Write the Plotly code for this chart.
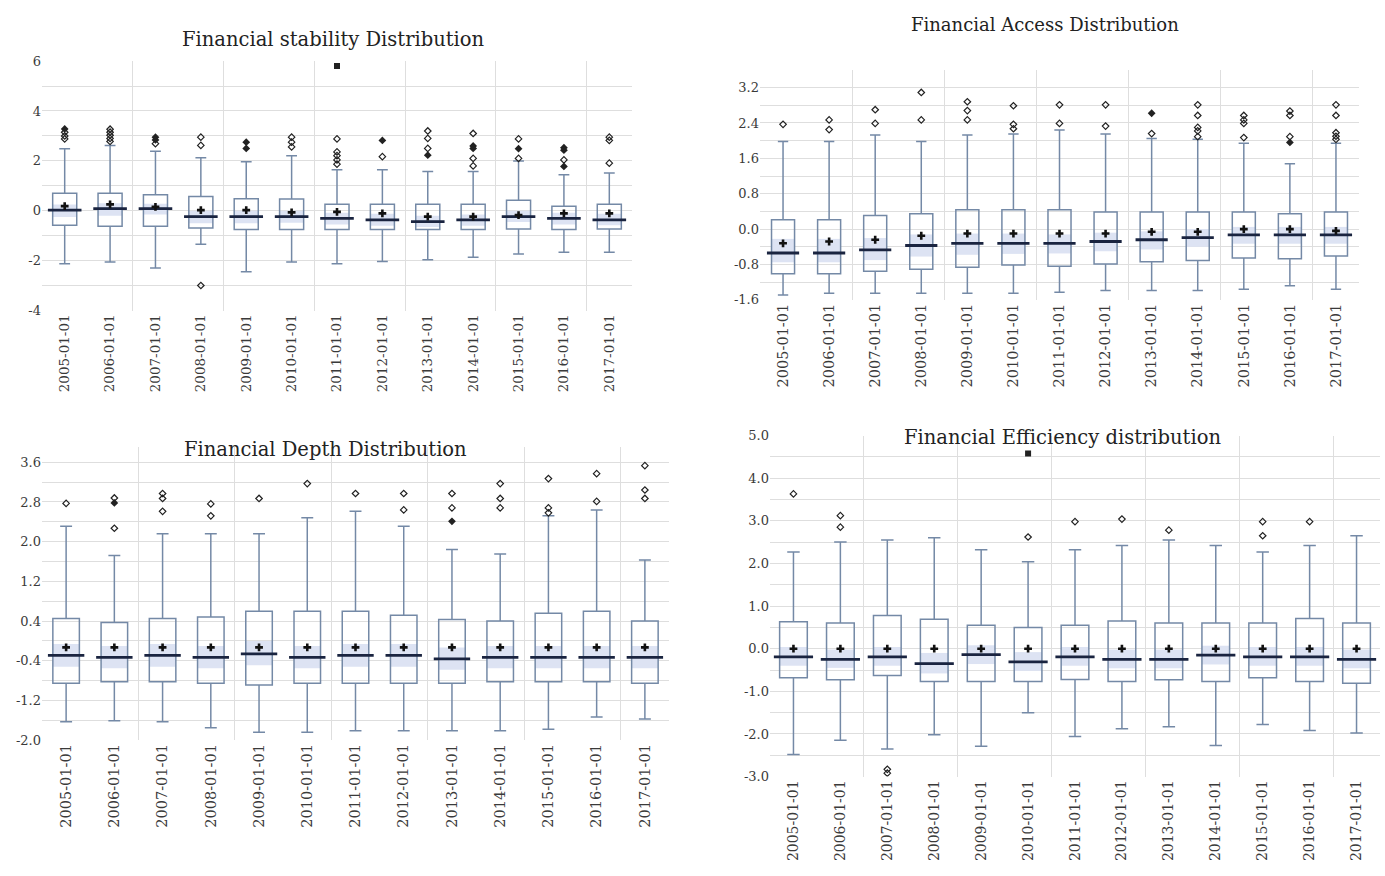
import plotly.graph_objects as go

# ---------------- data ----------------
categories = ["2005-01-01", "2006-01-01", "2007-01-01", "2008-01-01", "2009-01-01",
              "2010-01-01", "2011-01-01", "2012-01-01", "2013-01-01", "2014-01-01",
              "2015-01-01", "2016-01-01", "2017-01-01"]

# Financial stability
stab_lower = [-2.12, -2.05, -2.29, -1.34, -2.44, -2.05, -2.12, -2.03, -1.96, -1.86, -1.73, -1.66, -1.66]
stab_q1 = [-0.58, -0.62, -0.62, -0.69, -0.75, -0.75, -0.75, -0.75, -0.75, -0.75, -0.73, -0.75, -0.73]
stab_median = [0.03, 0.09, 0.09, -0.23, -0.23, -0.23, -0.30, -0.36, -0.43, -0.36, -0.23, -0.30, -0.36]
stab_q3 = [0.71, 0.71, 0.64, 0.57, 0.48, 0.47, 0.26, 0.26, 0.26, 0.26, 0.42, 0.18, 0.26]
stab_upper = [2.49, 2.62, 2.39, 2.13, 1.97, 2.21, 1.65, 1.65, 1.58, 1.58, 2.00, 1.45, 1.52]
stab_mean = [0.19, 0.26, 0.16, 0.03, 0.03, -0.06, -0.04, -0.10, -0.23, -0.23, -0.17, -0.10, -0.10]
stab_band_lo = [-0.25, -0.20, -0.15, -0.50, -0.50, -0.48, -0.55, -0.60, -0.65, -0.60, -0.45, -0.55, -0.58]
stab_band_hi = [0.25, 0.30, 0.28, 0.00, 0.00, 0.00, -0.08, -0.12, -0.20, -0.15, 0.00, -0.08, -0.12]
stab_out_open = [[3.15, 3.0, 2.88], [3.27, 3.15, 3.03, 2.9, 2.78], [2.69], [2.95, 2.62, -2.99], [],
                 [2.95, 2.75, 2.56], [2.88, 2.36, 2.21, 2.04, 1.87], [2.17], [3.2, 2.9, 2.5],
                 [3.1, 2.1, 1.8], [2.88, 2.1], [2.04], [2.95, 2.82, 1.91]]
stab_out_fill = [[3.28], [], [2.95, 2.84], [], [2.75, 2.5], [], [], [2.82], [2.23],
                 [2.6, 2.5], [2.49], [2.53, 2.43, 1.78], []]
stab_out_square = [[], [], [], [], [], [], [5.8], [], [], [], [], [], []]

# Financial access
acc_lower = [-1.49, -1.45, -1.45, -1.45, -1.45, -1.45, -1.43, -1.39, -1.39, -1.39, -1.36, -1.28, -1.36]
acc_q1 = [-1.01, -1.01, -0.95, -0.91, -0.86, -0.81, -0.84, -0.79, -0.74, -0.71, -0.65, -0.67, -0.61]
acc_median = [-0.54, -0.54, -0.47, -0.37, -0.32, -0.32, -0.32, -0.28, -0.24, -0.19, -0.13, -0.13, -0.13]
acc_q3 = [0.21, 0.21, 0.31, 0.35, 0.44, 0.44, 0.44, 0.39, 0.39, 0.39, 0.39, 0.35, 0.39]
acc_upper = [1.98, 1.98, 2.13, 1.98, 2.13, 2.15, 2.24, 2.15, 2.05, 2.03, 1.94, 1.48, 1.94]
acc_mean = [-0.32, -0.28, -0.24, -0.15, -0.10, -0.10, -0.10, -0.10, -0.06, -0.06, 0.00, 0.00, -0.04]
acc_band_lo = [-0.75, -0.75, -0.70, -0.62, -0.58, -0.56, -0.55, -0.50, -0.46, -0.40, -0.33, -0.33, -0.33]
acc_band_hi = [-0.22, -0.22, -0.20, -0.12, -0.10, -0.10, -0.12, -0.08, -0.05, 0.00, 0.05, 0.05, 0.05]
acc_out_open = [[2.37], [2.47, 2.25], [2.70, 2.39], [3.09, 2.47], [2.88, 2.68, 2.47],
                [2.79, 2.37, 2.27], [2.81, 2.39], [2.81, 2.33], [2.16],
                [2.81, 2.57, 2.30, 2.22, 2.09], [2.57, 2.47, 2.39, 2.07], [2.67, 2.57, 2.09],
                [2.81, 2.57, 2.18, 2.10, 2.03]]
acc_out_fill = [[], [], [], [], [], [], [], [], [2.62], [], [], [1.96], []]
acc_out_square = [[], [], [], [], [], [], [], [], [], [], [], [], []]

# Financial depth
dep_lower = [-1.63, -1.61, -1.63, -1.75, -1.84, -1.84, -1.81, -1.81, -1.81, -1.81, -1.78, -1.53, -1.57]
dep_q1 = [-0.85, -0.82, -0.82, -0.85, -0.89, -0.85, -0.85, -0.85, -0.85, -0.82, -0.82, -0.82, -0.85]
dep_median = [-0.29, -0.33, -0.29, -0.33, -0.26, -0.33, -0.29, -0.29, -0.36, -0.33, -0.33, -0.33, -0.33]
dep_q3 = [0.45, 0.37, 0.45, 0.48, 0.60, 0.60, 0.60, 0.52, 0.43, 0.40, 0.56, 0.60, 0.40]
dep_upper = [2.31, 1.72, 2.16, 2.16, 2.16, 2.48, 2.61, 2.31, 1.84, 1.75, 2.52, 2.64, 1.63]
dep_mean = [-0.13, -0.13, -0.13, -0.13, -0.13, -0.13, -0.13, -0.13, -0.13, -0.13, -0.13, -0.13, -0.13]
dep_band_lo = [-0.52, -0.55, -0.52, -0.55, -0.49, -0.55, -0.52, -0.52, -0.58, -0.55, -0.55, -0.55, -0.55]
dep_band_hi = [-0.06, -0.10, -0.06, -0.10, 0.00, -0.10, -0.06, -0.06, -0.13, -0.10, -0.10, -0.10, -0.10]
dep_out_open = [[2.77], [2.88, 2.27], [2.97, 2.87, 2.61], [2.76, 2.52], [2.87], [3.17], [2.97],
                [2.97, 2.64], [2.97, 2.68], [3.17, 2.87, 2.68], [3.27, 2.68, 2.58], [3.37, 2.81],
                [3.53, 3.04, 2.87]]
dep_out_fill = [[], [2.78], [], [], [], [], [], [], [2.41], [], [], [], []]
dep_out_square = [[], [], [], [], [], [], [], [], [], [], [], [], []]

# Financial efficiency
eff_lower = [-2.48, -2.15, -2.35, -2.02, -2.29, -1.50, -2.06, -1.88, -1.83, -2.27, -1.78, -1.92, -1.98]
eff_q1 = [-0.68, -0.73, -0.63, -0.77, -0.77, -0.77, -0.72, -0.77, -0.73, -0.77, -0.68, -0.77, -0.81]
eff_median = [-0.19, -0.25, -0.19, -0.35, -0.14, -0.31, -0.19, -0.25, -0.25, -0.15, -0.19, -0.19, -0.25]
eff_q3 = [0.63, 0.60, 0.78, 0.69, 0.55, 0.50, 0.55, 0.65, 0.60, 0.60, 0.60, 0.71, 0.60]
eff_upper = [2.27, 2.50, 2.55, 2.60, 2.32, 2.04, 2.32, 2.42, 2.55, 2.42, 2.27, 2.42, 2.65]
eff_mean = [0.00, 0.00, 0.00, 0.00, 0.00, 0.00, 0.00, 0.00, 0.00, 0.00, 0.00, 0.00, 0.00]
eff_band_lo = [-0.40, -0.45, -0.40, -0.58, -0.36, -0.52, -0.40, -0.46, -0.46, -0.37, -0.40, -0.40, -0.46]
eff_band_hi = [0.04, -0.02, 0.04, -0.10, 0.08, -0.08, 0.04, -0.02, -0.02, 0.07, 0.04, 0.04, -0.02]
eff_out_open = [[3.63], [3.12, 2.85], [-2.83, -2.92], [], [], [2.62], [2.98], [3.04], [2.78], [],
                [2.98, 2.65], [2.98], []]
eff_out_fill = [[], [], [], [], [], [], [], [], [], [], [], [], []]
eff_out_square = [[], [], [], [], [], [4.58], [], [], [], [], [], [], []]

# tick labels
stab_yticks = [-4, -3, -2, -1, 0, 1, 2, 3, 4, 5, 6]
stab_yticktext = ["-4", "", "-2", "", "0", "", "2", "", "4", "", "6"]
acc_yticks = [-1.6, -1.2, -0.8, -0.4, 0.0, 0.4, 0.8, 1.2, 1.6, 2.0, 2.4, 2.8, 3.2]
acc_yticktext = ["-1.6", "", "-0.8", "", "0.0", "", "0.8", "", "1.6", "", "2.4", "", "3.2"]
dep_yticks = [-2.0, -1.6, -1.2, -0.8, -0.4, 0.0, 0.4, 0.8, 1.2, 1.6, 2.0, 2.4, 2.8, 3.2, 3.6]
dep_yticktext = ["-2.0", "", "-1.2", "", "-0.4", "", "0.4", "", "1.2", "", "2.0", "", "2.8", "", "3.6"]
eff_yticks = [-3.0, -2.5, -2.0, -1.5, -1.0, -0.5, 0.0, 0.5, 1.0, 1.5, 2.0, 2.5, 3.0, 3.5, 4.0, 4.5, 5.0]
eff_yticktext = ["-3.0", "", "-2.0", "", "-1.0", "", "0.0", "", "1.0", "", "2.0", "", "3.0", "", "4.0", "", "5.0"]

titles = ["Financial stability Distribution", "Financial Access Distribution",
          "Financial Depth Distribution", "Financial Efficiency distribution"]

# ---------------- style ----------------
FONT = "DejaVu Serif"
GRID = "#dedede"
BOXC = "#7489a6"
BANDC = "#dde3f3"
MEDC = "#1a2440"
TXT = "#3a3a3a"

positions = list(range(len(categories)))

fig = go.Figure()


def add_panel(n, lower, q1, med, q3, upper, mean, band_lo, band_hi,
              out_open, out_fill, out_sq, box_w, med_px):
    xa = "x" if n == 1 else f"x{n}"
    ya = "y" if n == 1 else f"y{n}"
    fig.add_trace(go.Bar(
        x=positions, base=band_lo, y=[h - l for h, l in zip(band_hi, band_lo)],
        width=box_w, marker=dict(color=BANDC, line=dict(width=0)),
        xaxis=xa, yaxis=ya, showlegend=False, hoverinfo="skip"))
    fig.add_trace(go.Box(
        x=positions, q1=q1, median=med, q3=q3, lowerfence=lower, upperfence=upper,
        width=box_w, whiskerwidth=0.45, boxpoints=False,
        fillcolor="rgba(255,255,255,0)", line=dict(color=BOXC, width=1.5),
        xaxis=xa, yaxis=ya, showlegend=False))
    fig.add_trace(go.Scatter(
        x=positions, y=med, mode="markers",
        marker=dict(symbol="line-ew", size=med_px, line=dict(color=MEDC, width=2.8)),
        xaxis=xa, yaxis=ya, showlegend=False))
    fig.add_trace(go.Scatter(
        x=positions, y=mean, mode="markers",
        marker=dict(symbol="cross", size=6.5, color="#111111"),
        xaxis=xa, yaxis=ya, showlegend=False))
    for vals, sym, size, lw in [(out_open, "diamond-open", 5, 1.2),
                                (out_fill, "diamond", 6, 0),
                                (out_sq, "square", 6, 0)]:
        xs, ys = [], []
        for p, lst in zip(positions, vals):
            for v in lst:
                xs.append(p)
                ys.append(v)
        if xs:
            fig.add_trace(go.Scatter(
                x=xs, y=ys, mode="markers",
                marker=dict(symbol=sym, size=size, color="#222222", line=dict(color="#222222", width=lw)),
                xaxis=xa, yaxis=ya, showlegend=False))


add_panel(1, stab_lower, stab_q1, stab_median, stab_q3, stab_upper, stab_mean,
          stab_band_lo, stab_band_hi, stab_out_open, stab_out_fill, stab_out_square, 0.53, 24)
add_panel(2, acc_lower, acc_q1, acc_median, acc_q3, acc_upper, acc_mean,
          acc_band_lo, acc_band_hi, acc_out_open, acc_out_fill, acc_out_square, 0.50, 23)
add_panel(3, dep_lower, dep_q1, dep_median, dep_q3, dep_upper, dep_mean,
          dep_band_lo, dep_band_hi, dep_out_open, dep_out_fill, dep_out_square, 0.55, 26)
add_panel(4, eff_lower, eff_q1, eff_median, eff_q3, eff_upper, eff_mean,
          eff_band_lo, eff_band_hi, eff_out_open, eff_out_fill, eff_out_square, 0.59, 28)

W, H = 1385, 876
panels = [
    # x domain px, y domain px (top, bottom), y range, ticks, ticktext, title pos, title size, tick size
    ((42, 632), (55, 309), [-4, 6], stab_yticks, stab_yticktext, (333, 33), 19.5, 13.5),
    ((760, 1359), (64, 298), [-1.6, 3.6], acc_yticks, acc_yticktext, (1045, 18), 18, 14.5),
    ((42, 669), (448, 746), [-2.0, 3.9], dep_yticks, dep_yticktext, (325, 450), 19.5, 14.5),
    ((770, 1380), (436, 783), [-3.0, 5.0], eff_yticks, eff_yticktext, (1062, 438), 19.5, 14),
]

minor_grid = [p + 0.5 for p in positions[1:-1:2]]

layout = dict(
    width=W, height=H, margin=dict(l=0, r=0, t=0, b=0),
    paper_bgcolor="white", plot_bgcolor="white",
    barmode="overlay", boxmode="overlay", showlegend=False,
    font=dict(family=FONT, color=TXT),
    annotations=[],
)
for i, (xd, yd, yr, yt, ytt, tpos, tsize, ksize) in enumerate(panels, start=1):
    xk = "xaxis" if i == 1 else f"xaxis{i}"
    yk = "yaxis" if i == 1 else f"yaxis{i}"
    xa = "x" if i == 1 else f"x{i}"
    ya = "y" if i == 1 else f"y{i}"
    layout[xk] = dict(
        domain=[xd[0] / W, xd[1] / W], anchor=ya, range=[-0.5, len(categories) - 0.5],
        tickmode="array", tickvals=positions, ticktext=categories, tickangle=-90,
        showgrid=False, zeroline=False, showline=False, ticks="",
        tickfont=dict(family=FONT, size=ksize, color=TXT),
        minor=dict(tickmode="array", tickvals=minor_grid, showgrid=True,
                   gridcolor=GRID, gridwidth=1, ticks=""))
    layout[yk] = dict(
        domain=[1 - yd[1] / H, 1 - yd[0] / H], anchor=xa, range=yr,
        tickmode="array", tickvals=yt, ticktext=ytt,
        showgrid=True, gridcolor=GRID, gridwidth=1, zeroline=False, showline=False,
        ticks="", tickfont=dict(family=FONT, size=13, color=TXT))
    layout["annotations"].append(dict(
        text=titles[i - 1], x=tpos[0] / W, y=1 - tpos[1] / H, xref="paper", yref="paper",
        xanchor="center", yanchor="middle", showarrow=False,
        font=dict(family=FONT, size=tsize, color="#222222")))

fig.update_layout(**layout)
fig.write_html("out.html")
